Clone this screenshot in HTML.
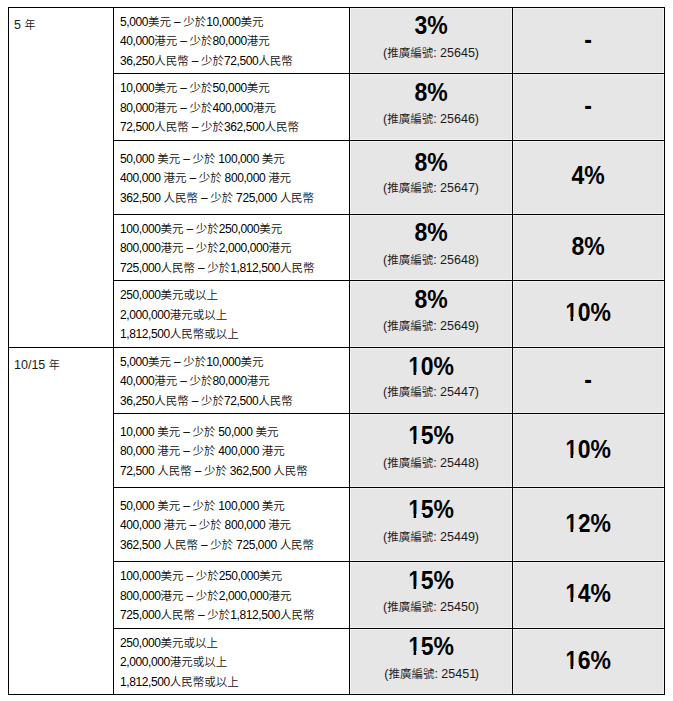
<!DOCTYPE html>
<html lang="zh-Hant"><head><meta charset="utf-8"><title>table</title>
<style>
html,body{margin:0;padding:0;background:#fff;}
body{width:673px;height:701px;position:relative;overflow:hidden;font-family:"Liberation Sans","Noto Sans CJK TC",sans-serif;color:#000;}
.l{position:absolute;background:#000;}
.g{position:absolute;background:#e7e6e6;box-shadow:1px 0 0 #f1f1f1,-1px 0 0 #f1f1f1,0 1px 0 #f1f1f1,0 -1px 0 #f1f1f1;}
.t{position:absolute;white-space:nowrap;line-height:0;}
.c2{font-size:12px;color:#000;letter-spacing:-0.4px;}
.c2 .k{font-size:11.5px;letter-spacing:0px;font-weight:350;color:#111;}
.c1{font-size:12.5px;color:#1a1a1a;}
.c1 .k{font-size:11px;font-weight:350;}
.big{font-weight:bold;font-size:25px;text-align:center;}
.big span{display:inline-block;transform:scaleX(0.92);transform-origin:50% 50%;}
.big .one{position:relative;}
.big .one::before,.big .one::after{content:"";position:absolute;top:0.225em;height:0.14em;background:#e7e6e6;}
.big .one::before{left:-0.05em;width:0.28em;}
.big .one::after{left:0.375em;width:0.3em;}
.lab{font-size:12.5px;text-align:center;color:#1a1a1a;}
.lab .n1{letter-spacing:-1.4px;}
.lab .k{font-size:11.5px;font-weight:350;}
</style></head><body>

<div class="g" style="left:351px;top:9px;width:160px;height:63px"></div>
<div class="g" style="left:514px;top:9px;width:149px;height:63px"></div>
<div class="g" style="left:351px;top:75px;width:160px;height:64px"></div>
<div class="g" style="left:514px;top:75px;width:149px;height:64px"></div>
<div class="g" style="left:351px;top:142px;width:160px;height:71px"></div>
<div class="g" style="left:514px;top:142px;width:149px;height:71px"></div>
<div class="g" style="left:351px;top:216px;width:160px;height:63px"></div>
<div class="g" style="left:514px;top:216px;width:149px;height:63px"></div>
<div class="g" style="left:351px;top:282px;width:160px;height:64px"></div>
<div class="g" style="left:514px;top:282px;width:149px;height:64px"></div>
<div class="g" style="left:351px;top:349px;width:160px;height:63px"></div>
<div class="g" style="left:514px;top:349px;width:149px;height:63px"></div>
<div class="g" style="left:351px;top:415px;width:160px;height:71px"></div>
<div class="g" style="left:514px;top:415px;width:149px;height:71px"></div>
<div class="g" style="left:351px;top:489px;width:160px;height:71px"></div>
<div class="g" style="left:514px;top:489px;width:149px;height:71px"></div>
<div class="g" style="left:351px;top:563px;width:160px;height:64px"></div>
<div class="g" style="left:514px;top:563px;width:149px;height:64px"></div>
<div class="g" style="left:351px;top:630px;width:160px;height:63px"></div>
<div class="g" style="left:514px;top:630px;width:149px;height:63px"></div>
<div class="l" style="left:8px;top:7px;width:657px;height:1px"></div>
<div class="l" style="left:113px;top:73px;width:552px;height:1px"></div>
<div class="l" style="left:113px;top:140px;width:552px;height:1px"></div>
<div class="l" style="left:113px;top:214px;width:552px;height:1px"></div>
<div class="l" style="left:113px;top:280px;width:552px;height:1px"></div>
<div class="l" style="left:8px;top:347px;width:657px;height:1px"></div>
<div class="l" style="left:113px;top:413px;width:552px;height:1px"></div>
<div class="l" style="left:113px;top:487px;width:552px;height:1px"></div>
<div class="l" style="left:113px;top:561px;width:552px;height:1px"></div>
<div class="l" style="left:113px;top:628px;width:552px;height:1px"></div>
<div class="l" style="left:8px;top:694px;width:657px;height:1px"></div>
<div class="l" style="left:8px;top:7px;width:1px;height:688px"></div>
<div class="l" style="left:113px;top:7px;width:1px;height:688px"></div>
<div class="l" style="left:349px;top:7px;width:1px;height:688px"></div>
<div class="l" style="left:512px;top:7px;width:1px;height:688px"></div>
<div class="l" style="left:664px;top:7px;width:1px;height:688px"></div>
<div class="t c1" style="left:14px;top:24.5px">5 <span class="k">年</span></div>
<div class="t c1" style="left:14px;top:364.5px">10/15 <span class="k">年</span></div>
<div class="t c2" style="left:120px;top:21.6px">5,000<span class="k">美元</span> – <span class="k">少於</span>10,000<span class="k">美元</span></div>
<div class="t c2" style="left:120px;top:41.1px">40,000<span class="k">港元</span> – <span class="k">少於</span>80,000<span class="k">港元</span></div>
<div class="t c2" style="left:120px;top:60.6px">36,250<span class="k">人民幣</span> – <span class="k">少於</span>72,500<span class="k">人民幣</span></div>
<div class="t big" style="left:350px;width:162px;top:24.5px"><span>3%</span></div>
<div class="t lab" style="left:350px;width:162px;top:52.5px">(<span class="k">推廣編號</span>: 25645)</div>
<div class="t big" style="left:513px;width:151px;top:39.0px"><span>-</span></div>
<div class="t c2" style="left:120px;top:88.1px">10,000<span class="k">美元</span> – <span class="k">少於</span>50,000<span class="k">美元</span></div>
<div class="t c2" style="left:120px;top:107.6px">80,000<span class="k">港元</span> – <span class="k">少於</span>400,000<span class="k">港元</span></div>
<div class="t c2" style="left:120px;top:127.1px">72,500<span class="k">人民幣</span> – <span class="k">少於</span>362,500<span class="k">人民幣</span></div>
<div class="t big" style="left:350px;width:162px;top:92.3px"><span>8%</span></div>
<div class="t lab" style="left:350px;width:162px;top:119.0px">(<span class="k">推廣編號</span>: 25646)</div>
<div class="t big" style="left:513px;width:151px;top:104.5px"><span>-</span></div>
<div class="t c2" style="left:120px;top:158.6px">50,000 <span class="k">美元</span> – <span class="k">少於</span> 100,000 <span class="k">美元</span></div>
<div class="t c2" style="left:120px;top:178.1px">400,000 <span class="k">港元</span> – <span class="k">少於</span> 800,000 <span class="k">港元</span></div>
<div class="t c2" style="left:120px;top:197.6px">362,500 <span class="k">人民幣</span> – <span class="k">少於</span> 725,000 <span class="k">人民幣</span></div>
<div class="t big" style="left:350px;width:162px;top:161.5px"><span>8%</span></div>
<div class="t lab" style="left:350px;width:162px;top:188.3px">(<span class="k">推廣編號</span>: 25647)</div>
<div class="t big" style="left:513px;width:151px;top:175.0px"><span>4%</span></div>
<div class="t c2" style="left:120px;top:228.6px">100,000<span class="k">美元</span> – <span class="k">少於</span>250,000<span class="k">美元</span></div>
<div class="t c2" style="left:120px;top:248.1px">800,000<span class="k">港元</span> – <span class="k">少於</span>2,000,000<span class="k">港元</span></div>
<div class="t c2" style="left:120px;top:267.6px">725,000<span class="k">人民幣</span> – <span class="k">少於</span>1,812,500<span class="k">人民幣</span></div>
<div class="t big" style="left:350px;width:162px;top:231.5px"><span>8%</span></div>
<div class="t lab" style="left:350px;width:162px;top:259.9px">(<span class="k">推廣編號</span>: 25648)</div>
<div class="t big" style="left:513px;width:151px;top:246.3px"><span>8%</span></div>
<div class="t c2" style="left:120px;top:295.1px">250,000<span class="k">美元或以上</span></div>
<div class="t c2" style="left:120px;top:314.6px">2,000,000<span class="k">港元或以上</span></div>
<div class="t c2" style="left:120px;top:334.1px">1,812,500<span class="k">人民幣或以上</span></div>
<div class="t big" style="left:350px;width:162px;top:299.3px"><span>8%</span></div>
<div class="t lab" style="left:350px;width:162px;top:326.4px">(<span class="k">推廣編號</span>: 25649)</div>
<div class="t big" style="left:513px;width:151px;top:311.5px"><span><span class="one">1</span>0%</span></div>
<div class="t c2" style="left:120px;top:361.6px">5,000<span class="k">美元</span> – <span class="k">少於</span>10,000<span class="k">美元</span></div>
<div class="t c2" style="left:120px;top:381.1px">40,000<span class="k">港元</span> – <span class="k">少於</span>80,000<span class="k">港元</span></div>
<div class="t c2" style="left:120px;top:400.6px">36,250<span class="k">人民幣</span> – <span class="k">少於</span>72,500<span class="k">人民幣</span></div>
<div class="t big" style="left:350px;width:162px;top:366.2px"><span><span class="one">1</span>0%</span></div>
<div class="t lab" style="left:350px;width:162px;top:391.9px">(<span class="k">推廣編號</span>: 25447)</div>
<div class="t big" style="left:513px;width:151px;top:379.0px"><span>-</span></div>
<div class="t c2" style="left:120px;top:431.6px">10,000 <span class="k">美元</span> – <span class="k">少於</span> 50,000 <span class="k">美元</span></div>
<div class="t c2" style="left:120px;top:451.1px">80,000 <span class="k">港元</span> – <span class="k">少於</span> 400,000 <span class="k">港元</span></div>
<div class="t c2" style="left:120px;top:470.6px">72,500 <span class="k">人民幣</span> – <span class="k">少於</span> 362,500 <span class="k">人民幣</span></div>
<div class="t big" style="left:350px;width:162px;top:434.5px"><span><span class="one">1</span>5%</span></div>
<div class="t lab" style="left:350px;width:162px;top:462.7px">(<span class="k">推廣編號</span>: 25448)</div>
<div class="t big" style="left:513px;width:151px;top:449.4px"><span><span class="one">1</span>0%</span></div>
<div class="t c2" style="left:120px;top:505.6px">50,000 <span class="k">美元</span> – <span class="k">少於</span> 100,000 <span class="k">美元</span></div>
<div class="t c2" style="left:120px;top:525.1px">400,000 <span class="k">港元</span> – <span class="k">少於</span> 800,000 <span class="k">港元</span></div>
<div class="t c2" style="left:120px;top:544.6px">362,500 <span class="k">人民幣</span> – <span class="k">少於</span> 725,000 <span class="k">人民幣</span></div>
<div class="t big" style="left:350px;width:162px;top:508.5px"><span><span class="one">1</span>5%</span></div>
<div class="t lab" style="left:350px;width:162px;top:536.7px">(<span class="k">推廣編號</span>: 25449)</div>
<div class="t big" style="left:513px;width:151px;top:523.1px"><span><span class="one">1</span>2%</span></div>
<div class="t c2" style="left:120px;top:576.1px">100,000<span class="k">美元</span> – <span class="k">少於</span>250,000<span class="k">美元</span></div>
<div class="t c2" style="left:120px;top:595.6px">800,000<span class="k">港元</span> – <span class="k">少於</span>2,000,000<span class="k">港元</span></div>
<div class="t c2" style="left:120px;top:615.1px">725,000<span class="k">人民幣</span> – <span class="k">少於</span>1,812,500<span class="k">人民幣</span></div>
<div class="t big" style="left:350px;width:162px;top:580.2px"><span><span class="one">1</span>5%</span></div>
<div class="t lab" style="left:350px;width:162px;top:607.1px">(<span class="k">推廣編號</span>: 25450)</div>
<div class="t big" style="left:513px;width:151px;top:592.5px"><span><span class="one">1</span>4%</span></div>
<div class="t c2" style="left:120px;top:642.6px">250,000<span class="k">美元或以上</span></div>
<div class="t c2" style="left:120px;top:662.1px">2,000,000<span class="k">港元或以上</span></div>
<div class="t c2" style="left:120px;top:681.6px">1,812,500<span class="k">人民幣或以上</span></div>
<div class="t big" style="left:350px;width:162px;top:645.8px"><span><span class="one">1</span>5%</span></div>
<div class="t lab" style="left:350.6px;width:162px;top:673.6px">(<span class="k">推廣編號</span>: 2545<span class="n1">1</span>)</div>
<div class="t big" style="left:513px;width:151px;top:660.1px"><span><span class="one">1</span>6%</span></div>
</body></html>
